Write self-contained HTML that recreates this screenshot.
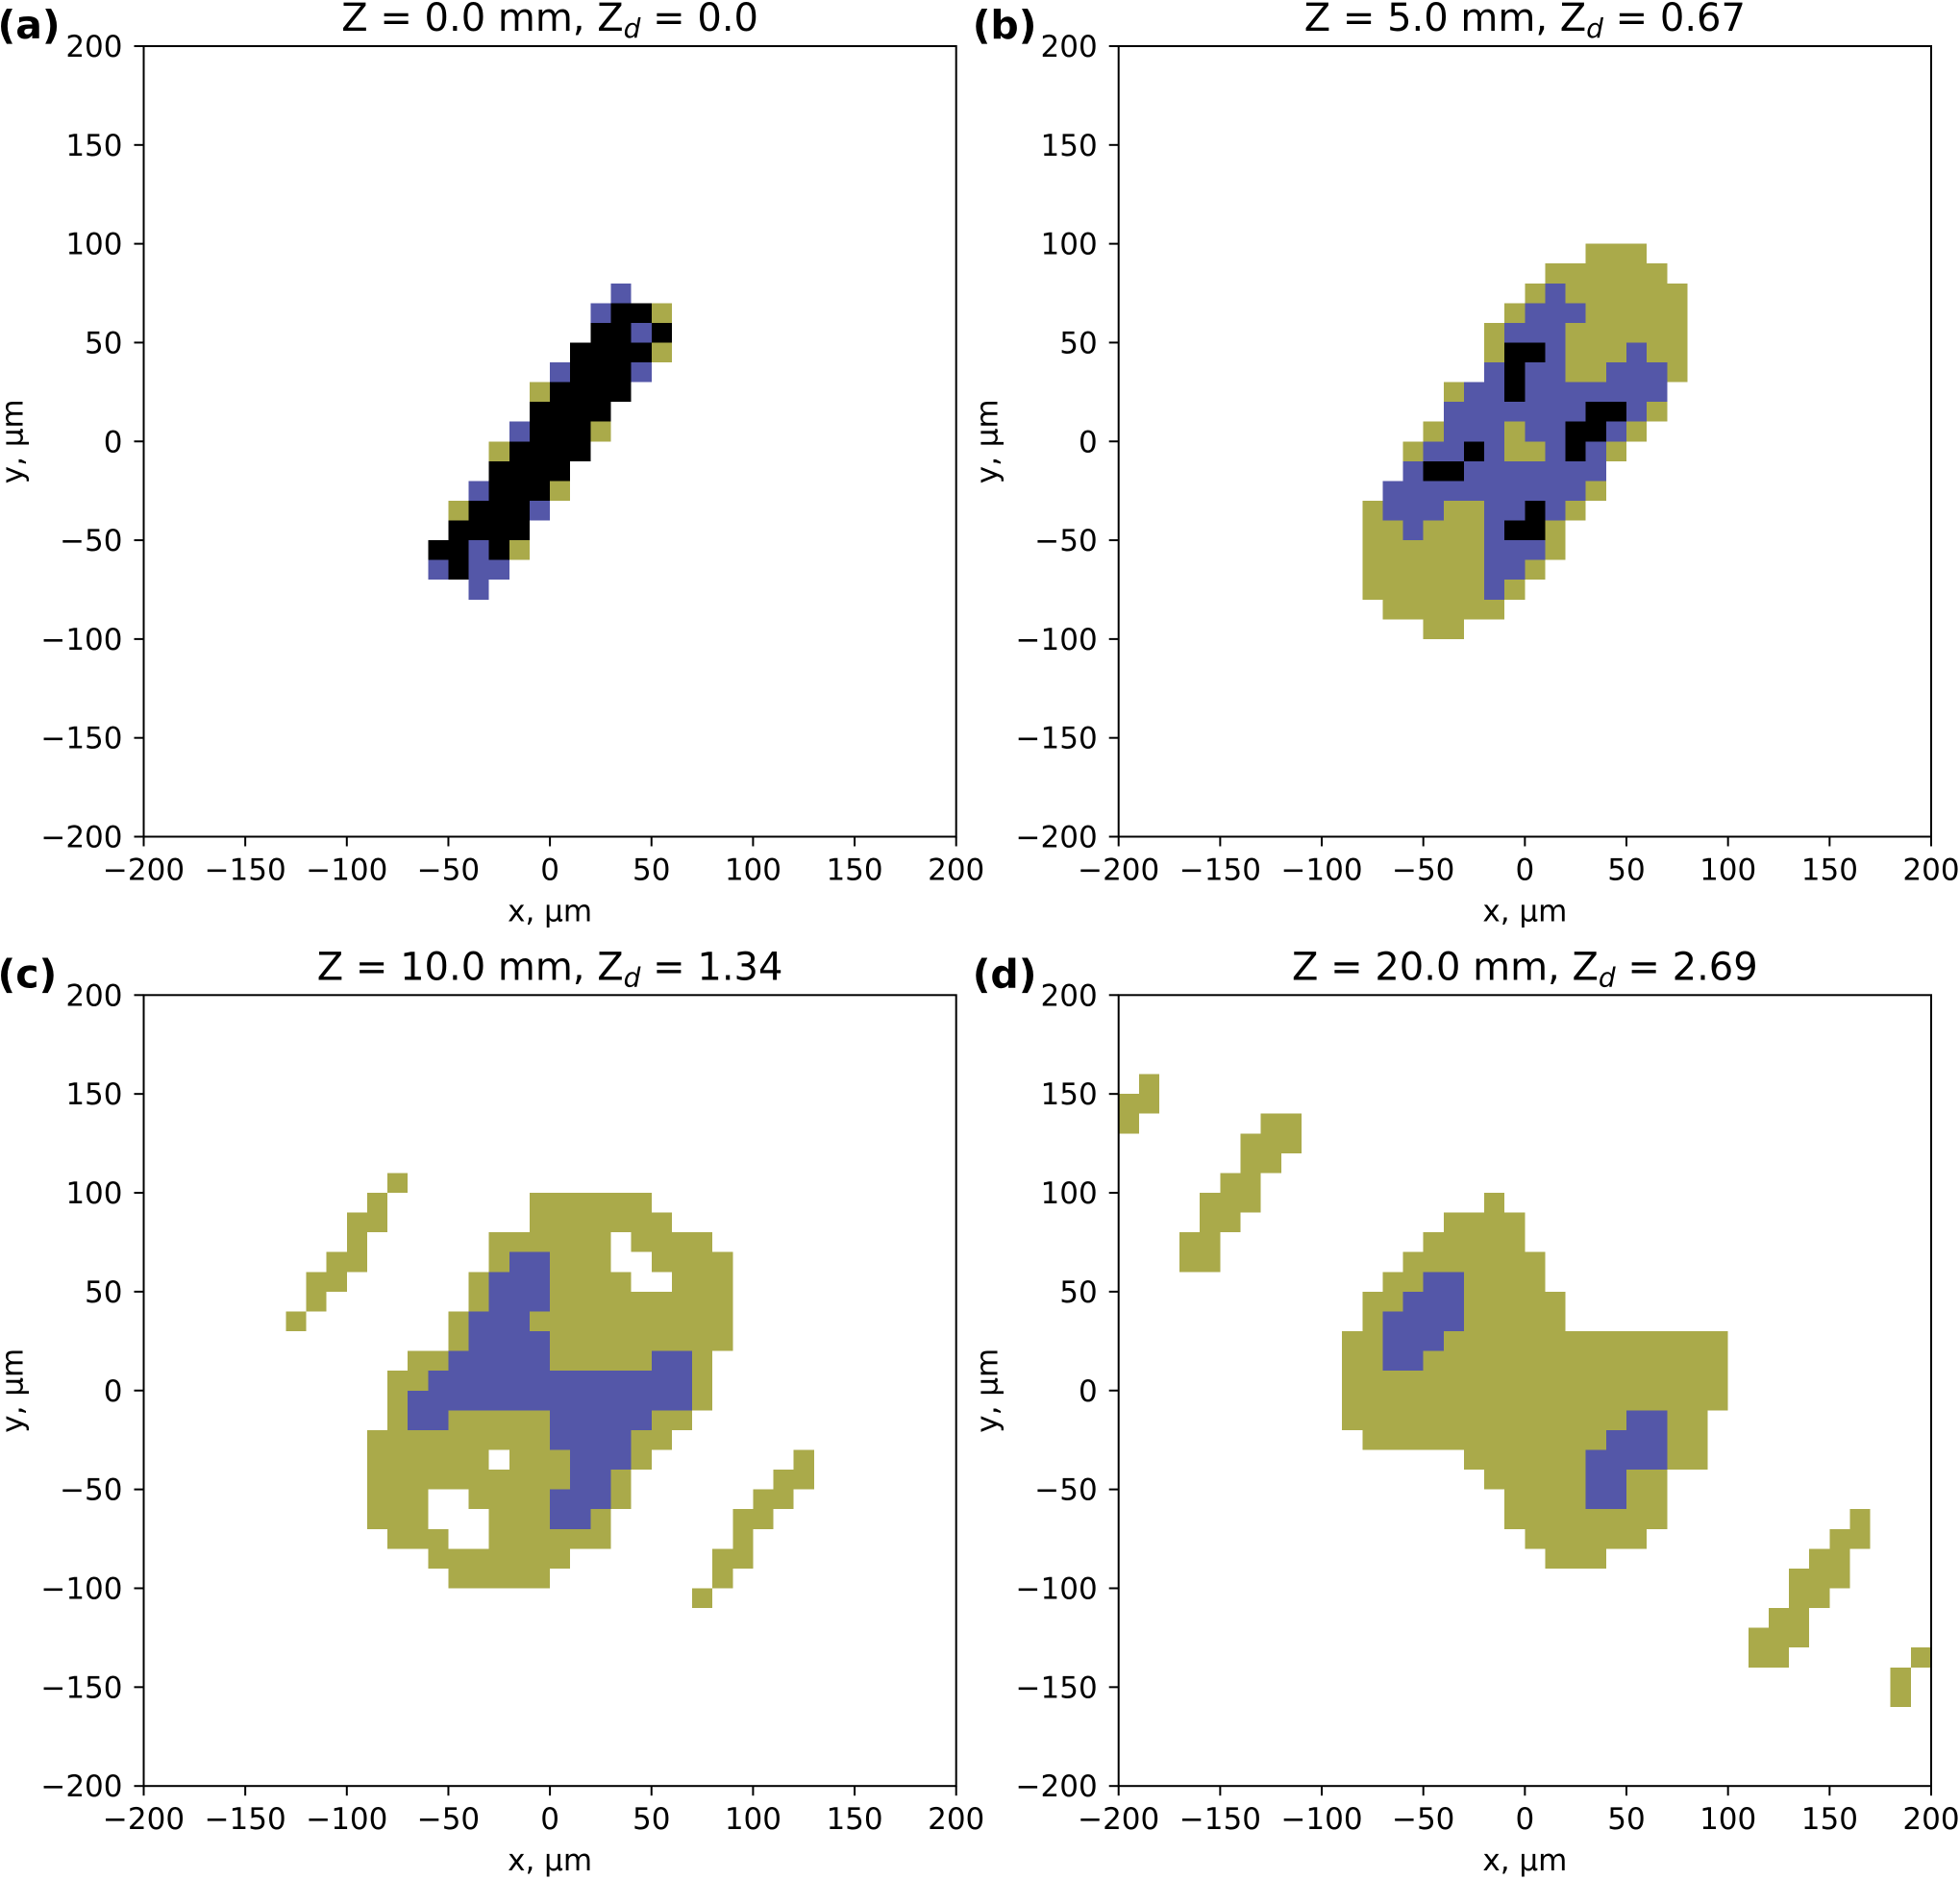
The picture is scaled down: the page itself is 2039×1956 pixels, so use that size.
<!DOCTYPE html>
<html><head><meta charset="utf-8"><style>
html,body{margin:0;padding:0;background:#fff;}
svg{display:block;}
text{font-family:"DejaVu Sans","Liberation Sans",sans-serif;fill:#000;}
</style></head>
<body>
<svg id="fig" xmlns="http://www.w3.org/2000/svg" width="2039" height="1956" viewBox="0 0 2039 1956"></svg>
<script>
// Tick values (µm)
const tickValues = [-200, -150, -100, -50, 0, 50, 100, 150, 200];
const tickLabels = ["\u2212200", "\u2212150", "\u2212100", "\u221250", "0", "50", "100", "150", "200"];
const panelLetters = ["(a)", "(b)", "(c)", "(d)"];
const zValues = ["0.0", "5.0", "10.0", "20.0"];
const zdValues = ["0.0", "0.67", "1.34", "2.69"];
const cellSize = 10; // µm
// Runs of cells: [yTop, xLeft, xRight, class]  (µm); k=black, b=blue, o=olive
const runsA = [
[80,30,40,'b'],
[70,20,30,'b'],[70,30,50,'k'],[70,50,60,'o'],
[60,20,40,'k'],[60,40,50,'b'],[60,50,60,'k'],
[50,10,50,'k'],[50,50,60,'o'],
[40,0,10,'b'],[40,10,40,'k'],[40,40,50,'b'],
[30,-10,0,'o'],[30,0,40,'k'],
[20,-10,30,'k'],
[10,-20,-10,'b'],[10,-10,20,'k'],[10,20,30,'o'],
[0,-30,-20,'o'],[0,-20,20,'k'],
[-10,-30,10,'k'],
[-20,-40,-30,'b'],[-20,-30,0,'k'],[-20,0,10,'o'],
[-30,-50,-40,'o'],[-30,-40,-10,'k'],[-30,-10,0,'b'],
[-40,-50,-10,'k'],
[-50,-60,-40,'k'],[-50,-40,-30,'b'],[-50,-30,-20,'k'],[-50,-20,-10,'o'],
[-60,-60,-50,'b'],[-60,-50,-40,'k'],[-60,-40,-20,'b'],
[-70,-40,-30,'b']
];
const runsB = [
[100,30,60,'o'],
[90,10,70,'o'],
[80,0,10,'o'],[80,10,20,'b'],[80,20,80,'o'],
[70,-10,0,'o'],[70,0,30,'b'],[70,30,80,'o'],
[60,-20,-10,'o'],[60,-10,20,'b'],[60,20,80,'o'],
[50,-20,-10,'o'],[50,-10,10,'k'],[50,10,20,'b'],[50,20,50,'o'],[50,50,60,'b'],[50,60,80,'o'],
[40,-20,-10,'b'],[40,-10,0,'k'],[40,0,20,'b'],[40,20,40,'o'],[40,40,70,'b'],[40,70,80,'o'],
[30,-40,-30,'o'],[30,-30,-10,'b'],[30,-10,0,'k'],[30,0,70,'b'],
[20,-40,30,'b'],[20,30,50,'k'],[20,50,60,'b'],[20,60,70,'o'],
[10,-50,-40,'o'],[10,-40,-10,'b'],[10,-10,0,'o'],[10,0,20,'b'],[10,20,40,'k'],[10,40,50,'b'],[10,50,60,'o'],
[0,-60,-50,'o'],[0,-50,-30,'b'],[0,-30,-20,'k'],[0,-20,-10,'b'],[0,-10,10,'o'],[0,10,20,'b'],[0,20,30,'k'],[0,30,40,'b'],[0,40,50,'o'],
[-10,-60,-50,'b'],[-10,-50,-30,'k'],[-10,-30,40,'b'],
[-20,-70,30,'b'],[-20,30,40,'o'],
[-30,-80,-70,'o'],[-30,-70,-40,'b'],[-30,-40,-20,'o'],[-30,-20,0,'b'],[-30,0,10,'k'],[-30,10,20,'b'],[-30,20,30,'o'],
[-40,-80,-60,'o'],[-40,-60,-50,'b'],[-40,-50,-20,'o'],[-40,-20,-10,'b'],[-40,-10,10,'k'],[-40,10,20,'o'],
[-50,-80,-20,'o'],[-50,-20,10,'b'],[-50,10,20,'o'],
[-60,-80,-20,'o'],[-60,-20,0,'b'],[-60,0,10,'o'],
[-70,-80,-20,'o'],[-70,-20,-10,'b'],[-70,-10,0,'o'],
[-80,-70,-10,'o'],
[-90,-50,-30,'o']
];
const runsC = [
[110,-80,-70,'o'],
[100,-90,-80,'o'],[100,-10,50,'o'],
[90,-100,-80,'o'],[90,-10,60,'o'],
[80,-100,-90,'o'],[80,-30,30,'o'],[80,40,80,'o'],
[70,-110,-90,'o'],[70,-30,-20,'o'],[70,-20,0,'b'],[70,0,30,'o'],[70,50,90,'o'],
[60,-120,-100,'o'],[60,-40,-30,'o'],[60,-30,0,'b'],[60,0,40,'o'],[60,60,90,'o'],
[50,-120,-110,'o'],[50,-40,-30,'o'],[50,-30,0,'b'],[50,0,90,'o'],
[40,-130,-120,'o'],[40,-50,-40,'o'],[40,-40,-10,'b'],[40,-10,90,'o'],
[30,-50,-40,'o'],[30,-40,0,'b'],[30,0,90,'o'],
[20,-70,-50,'o'],[20,-50,0,'b'],[20,0,50,'o'],[20,50,70,'b'],[20,70,80,'o'],
[10,-80,-60,'o'],[10,-60,70,'b'],[10,70,80,'o'],
[0,-80,-70,'o'],[0,-70,70,'b'],[0,70,80,'o'],
[-10,-80,-70,'o'],[-10,-70,-50,'b'],[-10,-50,0,'o'],[-10,0,50,'b'],[-10,50,70,'o'],
[-20,-90,0,'o'],[-20,0,40,'b'],[-20,40,60,'o'],
[-30,-90,-30,'o'],[-30,-20,10,'o'],[-30,10,40,'b'],[-30,40,50,'o'],[-30,120,130,'o'],
[-40,-90,10,'o'],[-40,10,30,'b'],[-40,30,40,'o'],[-40,110,130,'o'],
[-50,-90,-60,'o'],[-50,-40,0,'o'],[-50,0,30,'b'],[-50,30,40,'o'],[-50,100,120,'o'],
[-60,-90,-60,'o'],[-60,-30,0,'o'],[-60,0,20,'b'],[-60,20,30,'o'],[-60,90,110,'o'],
[-70,-80,-50,'o'],[-70,-30,30,'o'],[-70,90,100,'o'],
[-80,-60,10,'o'],[-80,80,100,'o'],
[-90,-50,0,'o'],[-90,80,90,'o'],
[-100,70,80,'o']
];
const runsD = [
[160,-190,-180,'o'],
[150,-200,-180,'o'],
[140,-200,-190,'o'],[140,-130,-110,'o'],
[130,-140,-110,'o'],
[120,-140,-120,'o'],
[110,-150,-130,'o'],
[100,-160,-130,'o'],[100,-20,-10,'o'],
[90,-160,-140,'o'],[90,-40,0,'o'],
[80,-170,-150,'o'],[80,-50,0,'o'],
[70,-170,-150,'o'],[70,-60,10,'o'],
[60,-70,-50,'o'],[60,-50,-30,'b'],[60,-30,10,'o'],
[50,-80,-60,'o'],[50,-60,-30,'b'],[50,-30,20,'o'],
[40,-80,-70,'o'],[40,-70,-30,'b'],[40,-30,20,'o'],
[30,-90,-70,'o'],[30,-70,-40,'b'],[30,-40,100,'o'],
[20,-90,-70,'o'],[20,-70,-50,'b'],[20,-50,100,'o'],
[10,-90,100,'o'],
[0,-90,100,'o'],
[-10,-90,50,'o'],[-10,50,70,'b'],[-10,70,90,'o'],
[-20,-80,40,'o'],[-20,40,70,'b'],[-20,70,90,'o'],
[-30,-30,30,'o'],[-30,30,70,'b'],[-30,70,90,'o'],
[-40,-20,30,'o'],[-40,30,50,'b'],[-40,50,70,'o'],
[-50,-10,30,'o'],[-50,30,50,'b'],[-50,50,70,'o'],
[-60,-10,70,'o'],[-60,160,170,'o'],
[-70,0,60,'o'],[-70,150,170,'o'],
[-80,10,40,'o'],[-80,140,160,'o'],
[-90,130,160,'o'],
[-100,130,150,'o'],
[-110,120,140,'o'],
[-120,110,140,'o'],
[-130,110,130,'o'],[-130,190,200,'o'],
[-140,180,190,'o'],
[-150,180,190,'o']
];
const panelRuns = [runsA, runsB, runsC, runsD];

const NS = "http://www.w3.org/2000/svg";
const svg = document.getElementById('fig');
const colors = {k:'#000000', b:'#5457a8', o:'#aaaa4a'};
const boxes = [
  {x0:149.5, x1:994.7, y0:48, y1:870.5},
  {x0:1163.7, x1:2009, y0:48, y1:870.5},
  {x0:149.5, x1:994.7, y0:1035.3, y1:1858.2},
  {x0:1163.7, x1:2009, y0:1035.3, y1:1858.2}
];
function mk(tag, attrs, parent){
  const e = document.createElementNS(NS, tag);
  for (const k in attrs) e.setAttribute(k, attrs[k]);
  (parent||svg).appendChild(e);
  return e;
}
boxes.forEach((bx, p) => {
  const xs = v => bx.x0 + (v + 200) * (bx.x1 - bx.x0) / 400;
  const ys = v => bx.y0 + (200 - v) * (bx.y1 - bx.y0) / 400;
  const g = mk('g', {});
  
  
  const cg = mk('g', {'shape-rendering':'crispEdges'}, g);
  
  
  panelRuns[p].forEach(r => {
    const x = xs(r[1]), x2 = xs(r[2]);
    const y = ys(r[0]), y2 = ys(r[0] - cellSize);
    const rc = mk('rect', {x:x, y:y, width:x2 - x, height:y2 - y, fill:colors[r[3]]}, cg);
    
    
  });
  const fr = mk('rect', {x:bx.x0, y:bx.y0, width:bx.x1 - bx.x0, height:bx.y1 - bx.y0, fill:'none', stroke:'#000', 'stroke-width':2}, g);
  
  
  tickValues.forEach((v, i) => {
    const X = xs(v);
    mk('line', {x1:X, x2:X, y1:bx.y1, y2:bx.y1 + 10, stroke:'#000', 'stroke-width':2}, g);
    const tx = mk('text', {x:X, y:bx.y1 + 45, 'text-anchor':'middle', 'font-size':31}, g);
    tx.textContent = tickLabels[i];
    
    
    const Y = ys(v);
    mk('line', {x1:bx.x0 - 10, x2:bx.x0, y1:Y, y2:Y, stroke:'#000', 'stroke-width':2}, g);
    const ty = mk('text', {x:bx.x0 - 22, y:Y + 11, 'text-anchor':'end', 'font-size':31}, g);
    ty.textContent = tickLabels[i];
    
    
  });
  const xl = mk('text', {x:(bx.x0 + bx.x1) / 2, y:bx.y1 + 88, 'text-anchor':'middle', 'font-size':31}, g);
  xl.textContent = 'x, \u00b5m';
  
  
  const cy = (bx.y0 + bx.y1) / 2, cx = bx.x0 - 126;
  const yl = mk('text', {x:cx, y:cy, 'text-anchor':'middle', 'font-size':31, transform:'rotate(-90 ' + cx + ' ' + cy + ')'}, g);
  yl.textContent = 'y, \u00b5m';
  
  
  const t = mk('text', {x:(bx.x0 + bx.x1) / 2, y:bx.y0 - 16, 'text-anchor':'middle', 'font-size':40}, g);
  
  
  const s1 = mk('tspan', {}, t); s1.textContent = 'Z = ' + zValues[p] + ' mm, Z';
  const s2 = mk('tspan', {'font-size':28, 'font-style':'italic', dy:7}, t); s2.textContent = 'd';
  const s3 = mk('tspan', {dy:-7}, t); s3.textContent = ' = ' + zdValues[p];
  const pl = mk('text', {x:bx.x0 - 152, y:bx.y0 - 8, 'font-size':41, 'font-weight':'bold'}, g);
  pl.textContent = panelLetters[p];
  
  
});
</script>
</body></html>
